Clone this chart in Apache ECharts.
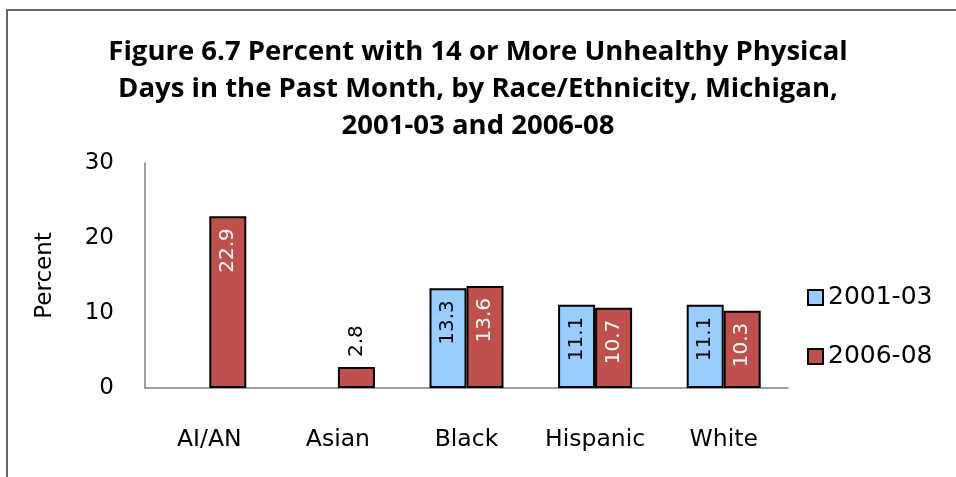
<!DOCTYPE html>
<html>
<head>
<meta charset="utf-8">
<script src="https://cdn.jsdelivr.net/npm/echarts@6/dist/echarts.min.js"></script>
<style>
  html, body { margin: 0; padding: 0; background: #fff; }
  #chart { width: 956px; height: 477px; }
</style>
</head>
<body>
<div id="chart"></div>
<script>
const categories = ["AI/AN", "Asian", "Black", "Hispanic", "White"];
const period1 = [null, null, 13.3, 11.1, 11.1];   // 2001-03
const period2 = [22.9, 2.8, 13.6, 10.7, 10.3];    // 2006-08
const yTicks = [0, 10, 20, 30];

const chart = echarts.init(document.getElementById("chart"));

// label goes inside near the top, unless the bar is too short
function barLabel(color) {
  return {
    show: true,
    rotate: 90,
    position: "insideTop",
    align: "right",
    verticalAlign: "middle",
    distance: 12,
    fontFamily: "DejaVu Sans",
    fontSize: 20,
    color: color,
    formatter: (p) => p.value.toFixed(1)
  };
}

const shortLabel = {
  show: true,
  rotate: 90,
  position: "top",
  align: "left",
  verticalAlign: "middle",
  distance: 10,
  color: "#000",
  fontFamily: "DejaVu Sans",
  fontSize: 20,
  formatter: (p) => p.value.toFixed(1)
};

chart.setOption({
  backgroundColor: "#ffffff",
  animation: false,
  graphic: [
    {
      type: "rect",
      shape: { x: 7, y: 10, width: 1000, height: 1000 },
      style: { fill: "none", stroke: "#666", lineWidth: 2 }
    }
  ],
  title: {
    text: "Figure 6.7 Percent with 14 or More Unhealthy Physical\nDays in the Past Month, by Race/Ethnicity, Michigan,\n2001-03 and 2006-08",
    left: "center",
    top: 29,
    textStyle: {
      fontFamily: "Open Sans",
      fontWeight: "bold",
      fontSize: 27.5,
      lineHeight: 37,
      color: "#000"
    }
  },
  legend: {
    orient: "vertical",
    left: 802,
    top: 280,
    itemWidth: 15,
    itemHeight: 15,
    itemGap: 34,
    icon: "rect",
    textStyle: { fontFamily: "DejaVu Sans", fontSize: 25, color: "#000" },
    data: ["2001-03", "2006-08"]
  },
  grid: { left: 145, top: 163, right: 168, bottom: 89 },
  xAxis: {
    type: "category",
    data: categories,
    axisLine: { lineStyle: { color: "#808080", width: 1.5 } },
    axisTick: { show: false },
    axisLabel: { interval: 0, margin: 40, fontFamily: "DejaVu Sans", fontSize: 23.5, color: "#000" }
  },
  yAxis: {
    type: "value",
    min: yTicks[0],
    max: yTicks[yTicks.length - 1],
    interval: 10,
    name: "Percent",
    nameLocation: "middle",
    nameGap: 88,
    nameTextStyle: { fontFamily: "DejaVu Sans", fontSize: 23, color: "#000" },
    axisLine: { show: true, lineStyle: { color: "#808080", width: 1.5 } },
    axisTick: { show: false },
    splitLine: { show: false },
    axisLabel: { margin: 31, fontFamily: "DejaVu Sans", fontSize: 23, color: "#000" }
  },
  series: [
    {
      name: "2001-03",
      type: "bar",
      data: period1,
      barWidth: 37,
      barGap: "0%",
      itemStyle: { color: "#99ccff", borderColor: "#000", borderWidth: 2 },
      label: barLabel("#000")
    },
    {
      name: "2006-08",
      type: "bar",
      data: period2.map((v) => v < 5
        ? { value: v, label: shortLabel }
        : v),
      barWidth: 37,
      barGap: "0%",
      itemStyle: { color: "#c0504d", borderColor: "#000", borderWidth: 2 },
      label: barLabel("#fff")
    }
  ]
});
</script>
</body>
</html>
